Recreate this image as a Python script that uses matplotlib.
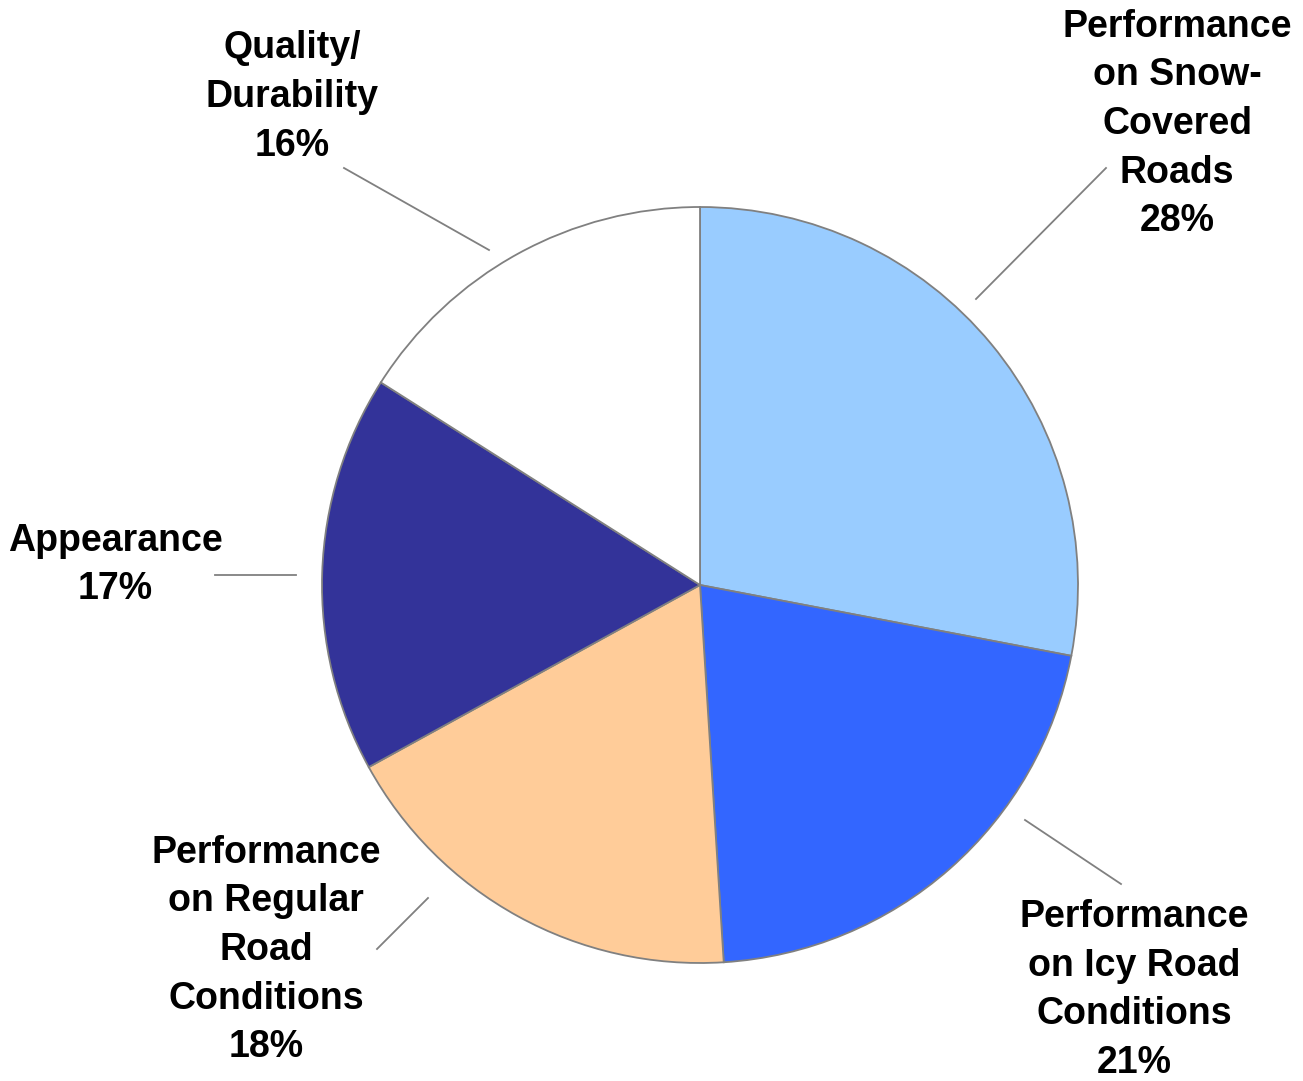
"""Tire attribute importance pie chart."""
import matplotlib
matplotlib.use("Agg")
import matplotlib.pyplot as plt

labels = ["Performance\non Snow-\nCovered\nRoads", "Performance\non Icy Road\nConditions",
          "Performance\non Regular\nRoad\nConditions", "Appearance", "Quality/\nDurability"]
shares = [28, 21, 18, 17, 16]
colors = ["#99CCFF", "#3366FF", "#FFCC99", "#333399", "#FFFFFF"]

W, H = 1303, 1081
# label layout in pixel coords (x, y from top), leader line endpoints
label_pos = [(1177, 124), (1134, 990), (266, 950), (115, 565), (292, 97)]
leaders = [((976, 299), (1106, 168)), ((1025, 820), (1121, 884)),
           ((428, 898), (377, 949)), ((296, 575), (215, 575)),
           ((489, 250), (344, 168))]

plt.rcParams["font.family"] = ["Liberation Sans", "DejaVu Sans"]
fig = plt.figure(figsize=(W / 100, H / 100), dpi=100)
ax = fig.add_axes([0, 0, 1, 1])
ax.set_xlim(0, W)
ax.set_ylim(0, H)
ax.set_aspect("equal")
ax.axis("off")

ax.pie(shares, colors=colors, startangle=90, counterclock=False,
       center=(700, H - 585), radius=378,
       wedgeprops=dict(edgecolor="#808080", linewidth=1.3))
ax.set_xlim(0, W)
ax.set_ylim(0, H)

for lab, s, (x, y) in zip(labels, shares, label_pos):
    ax.text(x, H - y, f"{lab}\n{s}%", ha="center", va="center",
            fontsize=27, fontweight="bold", linespacing=1.45)
for (x0, y0), (x1, y1) in leaders:
    ax.plot([x0, x1], [H - y0, H - y1], color="#808080", lw=1.3)

fig.savefig("out.png", dpi=100)
